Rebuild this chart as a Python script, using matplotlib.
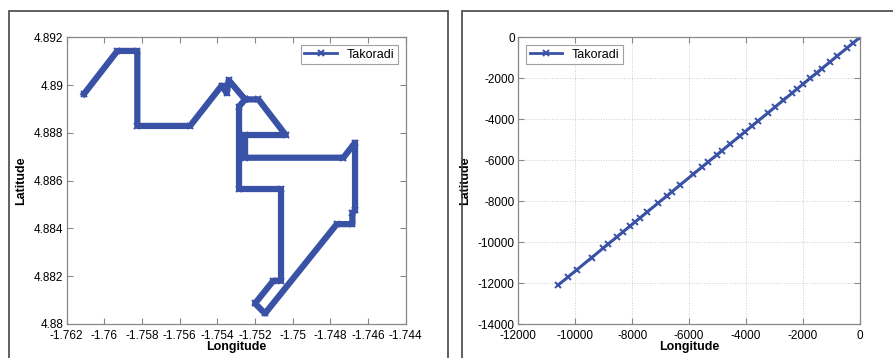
import matplotlib.pyplot as plt
from matplotlib.patches import Rectangle
from matplotlib.ticker import FuncFormatter

# GPS trace around Takoradi (degrees)
lon = [-1.76108, -1.75931, -1.75825, -1.75825, -1.75545, -1.75377, -1.75350,
       -1.75340, -1.75253, -1.75182, -1.75037, -1.75253, -1.75253, -1.74731,
       -1.74669, -1.74669, -1.74683, -1.74683, -1.74766, -1.75147, -1.75200,
       -1.75103, -1.75062, -1.75062, -1.75285, -1.75285, -1.75253]
lat = [4.88963, 4.89143, 4.89143, 4.88829, 4.88829, 4.88998, 4.88966,
       4.89021, 4.88940, 4.88940, 4.88791, 4.88791, 4.88696, 4.88696,
       4.88759, 4.88477, 4.88463, 4.88418, 4.88418, 4.88044, 4.88086,
       4.88181, 4.88181, 4.88565, 4.88565, 4.88910, 4.88940]

# same trace after projection
east = [-10597, -10246, -9953, -9426, -9016, -8841, -8548, -8314, -8080, -7904,
        -7728, -7494, -7084, -6792, -6616, -6323, -5855, -5562, -5328, -5035,
        -4859, -4567, -4215, -4040, -3806, -3571, -3220, -2986, -2693, -2400,
        -2225, -1991, -1756, -1522, -1347, -1054, -820, -468, -234, -23]
north = [-12096, -11696, -11361, -10760, -10292, -10092, -9758, -9490, -9223,
         -9022, -8822, -8554, -8087, -7753, -7552, -7218, -6683, -6349, -6082,
         -5748, -5547, -5213, -4812, -4612, -4344, -4077, -3676, -3408, -3074,
         -2740, -2540, -2272, -2005, -1737, -1537, -1203, -936, -535, -267, -27]

blue = '#3a52a6'
plt.rcParams['font.family'] = ['Liberation Sans', 'DejaVu Sans']
plt.rcParams['font.size'] = 8.5

W, H = 893, 358
fig = plt.figure(figsize=(W / 100, H / 100), dpi=100)

# panel frames
fig.patches.append(Rectangle((9 / W, -0.05), (448 - 9) / W, (H - 11) / H + 0.05,
                             transform=fig.transFigure, fill=False,
                             edgecolor='#444444', lw=1.2))
fig.patches.append(Rectangle((462 / W, -0.05), 0.6, (H - 11) / H + 0.05,
                             transform=fig.transFigure, fill=False,
                             edgecolor='#444444', lw=1.2))


def box(x0, x1, y0, y1):
    return [x0 / W, 1 - y1 / H, (x1 - x0) / W, (y1 - y0) / H]


def style(ax):
    for s in ax.spines.values():
        s.set_color('#888888')
        s.set_linewidth(0.9)
    ax.tick_params(direction='in', top=True, right=True, length=4,
                   color='#888888', labelsize=8.5)
    ax.tick_params(axis='x', pad=4.5)
    ax.tick_params(axis='y', pad=2.5)
    ax.set_xlabel('Longitude', fontweight='bold', fontsize=9, labelpad=-1)
    ax.set_ylabel('Latitude', fontweight='bold', fontsize=9, labelpad=5)
    ax.xaxis.set_major_formatter(FuncFormatter(lambda v, p: '%g' % round(v, 6)))
    ax.yaxis.set_major_formatter(FuncFormatter(lambda v, p: '%g' % round(v, 6)))


ax1 = fig.add_axes(box(66.7, 405.7, 37.3, 324))
ax1.plot(lon, lat, '-x', color=blue, lw=4.5, ms=4, mew=1.5, label='Takoradi')
ax1.set_xlim(-1.762, -1.744)
ax1.set_ylim(4.88, 4.892)
ax1.set_xticks([-1.762 + 0.002 * i for i in range(10)])
ax1.set_yticks([4.88 + 0.002 * i for i in range(7)])
style(ax1)
lg = ax1.legend(loc='upper right', fancybox=False, edgecolor='#888888',
                handlelength=2.6, borderaxespad=0.6, borderpad=0.3, fontsize=9)
lg.get_frame().set_linewidth(0.8)
for h in lg.legend_handles:
    h.set_linewidth(2)
    h.set_markersize(4)

ax2 = fig.add_axes(box(518.3, 860, 37.3, 324))
ax2.plot(east, north, '-x', color=blue, lw=2.2, ms=5, mew=1.4, label='Takoradi')
ax2.set_xlim(-12000, 0)
ax2.set_ylim(-14000, 0)
ax2.set_xticks(range(-12000, 1, 2000))
ax2.set_yticks(range(-14000, 1, 2000))
ax2.grid(True, ls=':', color='#cccccc', lw=0.7)
style(ax2)
lg2 = ax2.legend(loc='upper left', fancybox=False, edgecolor='#888888',
                 handlelength=2.6, borderaxespad=0.6, borderpad=0.3, fontsize=9)
lg2.get_frame().set_linewidth(0.8)
for h in lg2.legend_handles:
    h.set_linewidth(2)
    h.set_markersize(4)

fig.savefig('out.png', dpi=100)
